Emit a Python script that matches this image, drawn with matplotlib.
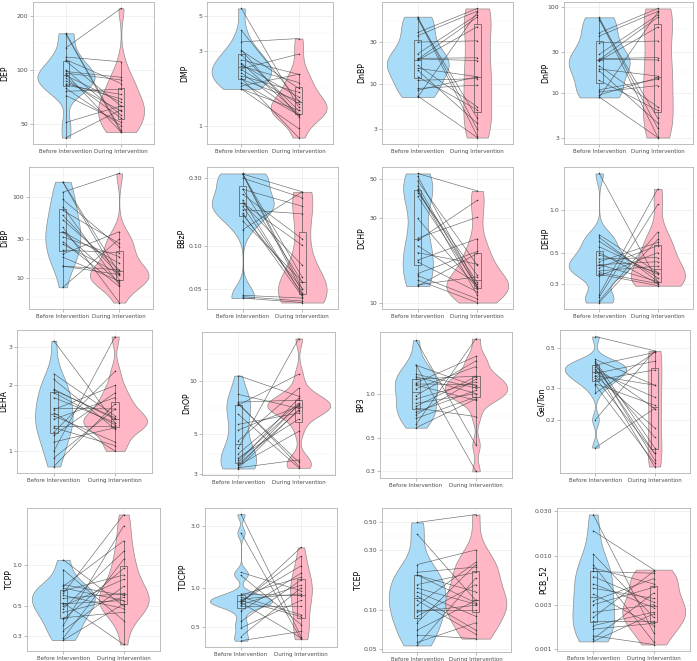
import numpy as np
import matplotlib.pyplot as plt
from matplotlib.ticker import FixedLocator, NullFormatter

plt.rcParams['font.family'] = ['DejaVu Sans']

groups = ["Before Intervention", "During Intervention"]

# paired values (same index = same participant)
dep_before = [160, 158, 133, 114, 118, 112, 100, 98, 96, 93, 90, 87, 84, 82, 79, 76, 72, 51, 42, 95]
dep_during = [46, 45, 220, 84, 111, 63, 56, 91, 88, 66, 54, 59, 69, 73, 49, 78, 51, 63, 60, 45]
dmp_before = [5.56, 4.03, 3.41, 3.03, 3.0, 2.82, 2.62, 2.50, 2.45, 2.39, 2.30, 2.27, 2.17, 2.07, 2.0, 1.97, 1.88, 1.79, 1.71, 1.71]
dmp_during = [1.31, 1.44, 3.58, 1.14, 1.73, 1.25, 2.12, 1.19, 1.52, 1.88, 2.85, 1.38, 1.17, 1.63, 0.84, 1.44, 1.17, 2.12, 0.96, 1.25]
dnbp_before = [58.7, 57, 55, 38.7, 35.5, 30, 22, 19.5, 19.2, 19.0, 18.5, 16.2, 15, 14.2, 12, 10.9, 8.8, 8.4, 7.0, 7.2]
dnbp_during = [3.0, 2.5, 4.0, 73, 68, 31, 62, 19.8, 18.4, 58, 45, 5.4, 12, 3.5, 5.0, 11.4, 9.6, 12, 66, 2.4]
dnpp_before = [75, 73, 70, 49.6, 45.5, 38, 28, 25, 24.6, 24.3, 23.5, 20.7, 19, 18.1, 14, 10.9, 10.3, 9.5, 8.9, 9.0]
dnpp_during = [3.9, 3.1, 5.1, 95, 88, 40, 80, 25.7, 24.1, 75, 58, 6.9, 15.7, 4.5, 6.3, 14.5, 12.2, 15, 86, 3.06]
dibp_before = [152, 150, 113, 92, 75, 67.6, 58.8, 52, 42, 37, 36.9, 32, 28, 26, 22, 19.7, 18, 14, 14, 7.7]
dibp_during = [11.5, 9.5, 192, 24.2, 8.3, 26.6, 11, 12.6, 5.0, 8.7, 15.2, 18.3, 7.9, 11.3, 20.5, 37, 9.2, 12.6, 11, 30]
bbzp_before = [0.323, 0.32, 0.318, 0.30, 0.25, 0.25, 0.23, 0.21, 0.20, 0.20, 0.19, 0.18, 0.17, 0.166, 0.15, 0.13, 0.045, 0.044, 0.043, 0.32]
bbzp_during = [0.05, 0.24, 0.047, 0.218, 0.056, 0.19, 0.112, 0.045, 0.101, 0.073, 0.046, 0.168, 0.044, 0.05, 0.056, 0.24, 0.043, 0.041, 0.040, 0.06]
dchp_before = [54, 52, 49, 46, 44, 43, 42, 23.2, 22.5, 21, 19.2, 17.4, 17.0, 14.6, 14.2, 13.4, 12.6, 12.4, 30, 40]
dchp_during = [43, 12.3, 16.3, 12.0, 11, 13.0, 14.3, 30.5, 38, 12.8, 16.5, 23, 11.5, 19.5, 10.5, 10.0, 14, 19, 12.1, 12.4]
dehp_before = [1.83, 0.67, 0.64, 0.60, 0.55, 0.50, 0.48, 0.45, 0.43, 0.41, 0.41, 0.39, 0.37, 0.36, 0.35, 0.34, 0.25, 0.24, 0.226, 0.22]
dehp_during = [0.31, 0.36, 0.31, 0.33, 0.35, 0.30, 0.36, 0.46, 0.59, 0.31, 0.43, 0.56, 0.40, 0.30, 0.29, 0.50, 1.42, 1.1, 0.70, 0.62]
deha_before = [3.2, 2.26, 2.13, 1.92, 1.76, 1.85, 1.57, 1.55, 1.45, 1.40, 1.28, 1.22, 1.18, 1.10, 1.0, 0.93, 0.85, 1.5, 1.3, 1.9]
deha_during = [1.35, 1.45, 1.26, 1.40, 1.35, 1.32, 1.56, 2.0, 1.10, 1.76, 1.06, 2.32, 1.85, 1.28, 3.35, 1.56, 1.65, 1.0, 1.3, 1.42]
dnop_before = [10.7, 8.4, 7.6, 7.4, 7.3, 6.5, 5.7, 5.3, 4.6, 4.2, 3.9, 3.7, 3.48, 3.4, 3.35, 3.3, 3.25, 3.22, 7.5, 3.6]
dnop_during = [8.2, 7.0, 7.8, 3.5, 10.9, 3.25, 6.6, 7.2, 9.1, 17.3, 7.5, 6.1, 8.0, 6.8, 5.2, 7.4, 3.6, 6.9, 3.33, 7.3]
bp3_before = [2.28, 1.56, 1.35, 1.25, 1.18, 1.16, 1.14, 1.08, 0.97, 0.92, 0.86, 0.80, 0.75, 0.72, 0.68, 0.62, 0.59, 1.55, 1.30, 0.82]
bp3_during = [0.45, 0.30, 1.09, 1.31, 1.78, 1.15, 0.90, 1.52, 1.66, 1.20, 1.0, 0.70, 1.05, 1.25, 0.95, 2.34, 0.92, 1.12, 1.0, 1.3]
gel_before = [0.576, 0.43, 0.42, 0.41, 0.40, 0.39, 0.38, 0.37, 0.36, 0.35, 0.34, 0.33, 0.315, 0.31, 0.28, 0.20, 0.14, 0.38, 0.35, 0.40]
gel_during = [0.48, 0.31, 0.14, 0.12, 0.47, 0.23, 0.11, 0.266, 0.42, 0.18, 0.13, 0.376, 0.24, 0.115, 0.47, 0.48, 0.23, 0.16, 0.31, 0.13]
tcpp_before = [1.10, 0.93, 0.72, 0.70, 0.68, 0.65, 0.62, 0.57, 0.53, 0.50, 0.48, 0.45, 0.41, 0.36, 0.33, 0.29, 0.28, 0.60, 0.52, 0.40]
tcpp_during = [0.50, 0.39, 0.60, 1.52, 0.55, 0.85, 2.38, 0.62, 0.26, 0.79, 1.27, 0.58, 0.45, 1.96, 0.70, 1.11, 0.52, 0.48, 0.55, 0.95]
tdcpp_before = [3.72, 2.67, 1.32, 1.25, 0.90, 0.88, 0.85, 0.79, 0.78, 0.76, 0.74, 0.72, 0.66, 0.55, 0.49, 0.42, 0.39, 0.80, 0.77, 0.82]
tdcpp_during = [0.42, 0.40, 0.95, 0.52, 0.87, 1.21, 0.62, 1.48, 1.76, 2.06, 1.05, 0.72, 1.30, 1.15, 0.80, 1.00, 0.46, 0.60, 0.41, 0.90]
tcep_before = [0.494, 0.40, 0.23, 0.20, 0.19, 0.16, 0.14, 0.12, 0.11, 0.098, 0.09, 0.08, 0.07, 0.064, 0.056, 0.053, 0.19, 0.15, 0.13, 0.10]
tcep_during = [0.57, 0.12, 0.30, 0.22, 0.115, 0.20, 0.09, 0.065, 0.24, 0.11, 0.16, 0.23, 0.12, 0.06, 0.08, 0.18, 0.14, 0.112, 0.07, 0.10]
pcb52_before = [0.0275, 0.0184, 0.0104, 0.0080, 0.0074, 0.0068, 0.0060, 0.0050, 0.0045, 0.0039, 0.0033, 0.0030, 0.0025, 0.0022, 0.0020, 0.0018, 0.00165, 0.0014, 0.0013, 0.00122]
pcb52_during = [0.0015, 0.0071, 0.0022, 0.0012, 0.0050, 0.0065, 0.0032, 0.0028, 0.0035, 0.0018, 0.0057, 0.0046, 0.0030, 0.0068, 0.0020, 0.0025, 0.0019, 0.00113, 0.0040, 0.0024]

# (name, before, during, y tick values, y tick labels, axes box l, r, top, bottom in px, ylabel x in px)
panels = [
    ("DEP", dep_before, dep_during, [50, 100, 200], ["50", "100", "200"], (33, 154, 2, 144), 6),
    ("DMP", dmp_before, dmp_during, [1, 3, 5], ["1", "3", "5"], (207, 333, 2, 144), 186),
    ("DnBP", dnbp_before, dnbp_during, [3, 10, 30], ["3", "10", "30"], (382, 513, 2, 144), 363),
    ("DnPP", dnpp_before, dnpp_during, [3, 10, 30, 100], ["3", "10", "30", "100"], (564, 693, 2, 144), 547),
    ("DiBP", dibp_before, dibp_during, [10, 30, 100], ["10", "30", "100"], (29, 153, 167, 309), 6),
    ("BBzP", bbzp_before, bbzp_during, [0.05, 0.1, 0.3], ["0.05", "0.10", "0.30"], (207, 338, 167, 309), 183),
    ("DCHP", dchp_before, dchp_during, [10, 30, 50], ["10", "30", "50"], (382, 513, 167, 309), 363),
    ("DEHP", dehp_before, dehp_during, [0.3, 0.5, 1.0], ["0.3", "0.5", "1.0"], (564, 693, 167, 309), 547),
    ("DEHA", deha_before, deha_during, [1, 2, 3], ["1", "2", "3"], (17, 152, 330, 473), 5),
    ("DnOP", dnop_before, dnop_during, [3, 5, 10], ["3", "5", "10"], (202, 335, 332, 475), 188),
    ("BP3", bp3_before, bp3_during, [0.3, 0.5, 1.0], ["0.3", "0.5", "1.0"], (380, 512, 332, 478), 362),
    ("Gel/Ton", gel_before, gel_during, [0.2, 0.3, 0.5], ["0.2", "0.3", "0.5"], (560, 690, 330, 473), 543),
    ("TCPP", tcpp_before, tcpp_during, [0.3, 0.5, 1.0], ["0.3", "0.5", "1.0"], (27, 160, 508, 651), 11),
    ("TDCPP", tdcpp_before, tdcpp_during, [0.5, 1.0, 3.0], ["0.5", "1.0", "3.0"], (205, 337, 508, 647), 185),
    ("TCEP", tcep_before, tcep_during, [0.05, 0.1, 0.3, 0.5], ["0.05", "0.10", "0.30", "0.50"], (382, 511, 508, 652), 360),
    ("PCB_52", pcb52_before, pcb52_during, [0.001, 0.003, 0.01, 0.03], ["0.001", "0.003", "0.010", "0.030"], (557, 690, 508, 651), 544),
]

fill_colors = ["#A9DCF8", "#FFB7C5"]
W, H = 697, 661


def kde_log(vals):
    # gaussian kde on log10 values, bw.nrd0 like ggplot
    lv = np.log10(np.asarray(vals, dtype=float))
    n = len(lv)
    sd = lv.std(ddof=1)
    q75, q25 = np.percentile(lv, [75, 25])
    bw = 0.9 * min(sd, (q75 - q25) / 1.34) * n ** -0.2
    grid = np.linspace(lv.min(), lv.max(), 300)
    dens = np.exp(-0.5 * ((grid[:, None] - lv[None, :]) / bw) ** 2).sum(1) / (n * bw * np.sqrt(2 * np.pi))
    return grid, dens


fig = plt.figure(figsize=(6.97, 6.61), dpi=100)

for name, before, during, ticks, labels, (l, r, t, b), lab_x in panels:
    ax = fig.add_axes([l / W, 1 - b / H, (r - l) / W, (b - t) / H])
    ax.set_yscale('log')

    # violins (area scaled within the panel)
    kdes = [kde_log(before), kde_log(during)]
    dmax = max(d.max() for _, d in kdes)
    for i, (g, d) in enumerate(kdes):
        hw = d / dmax * 0.52
        ax.fill_betweenx(10 ** g, i + 1 - hw, i + 1 + hw, facecolor=fill_colors[i],
                         edgecolor='#8C8C8C', linewidth=0.5, zorder=2)

    ax.boxplot([before, during], positions=[1, 2], widths=0.12, showfliers=False,
               showcaps=False, patch_artist=True,
               boxprops=dict(facecolor='none', edgecolor='#555555', linewidth=0.5),
               whiskerprops=dict(color='#555555', linewidth=0.5),
               medianprops=dict(color='#555555', linewidth=0.5), zorder=3)

    # paired lines
    for vb, vd in zip(before, during):
        ax.plot([1, 2], [vb, vd], color='#3A3A3A', linewidth=0.45, alpha=0.75, zorder=4)
    ax.scatter([1] * len(before), before, s=1.2, color='#333333', zorder=5, linewidths=0)
    ax.scatter([2] * len(during), during, s=1.2, color='#333333', zorder=5, linewidths=0)

    allv = np.log10(np.concatenate([before, during]))
    lo, hi = allv.min(), allv.max()
    pad = 0.05 * (hi - lo)
    ax.set_ylim(10 ** (lo - pad), 10 ** (hi + pad))
    ax.set_xlim(0.4, 2.6)

    ax.set_yticks(ticks)
    ax.set_yticklabels(labels)
    lt = np.log10(ticks)
    step = lt[1] - lt[0]
    mids = list((lt[:-1] + lt[1:]) / 2) + [lt[0] - step / 2, lt[-1] + (lt[-1] - lt[-2]) / 2]
    ax.yaxis.set_minor_locator(FixedLocator(10 ** np.array(mids)))
    ax.yaxis.set_minor_formatter(NullFormatter())
    ax.set_xticks([1, 2])
    ax.set_xticklabels(groups)

    ax.grid(True, which='major', color='#EBEBEB', linewidth=0.5, zorder=0)
    ax.grid(True, which='minor', axis='y', color='#F4F4F4', linewidth=0.35, zorder=0)
    ax.set_axisbelow(True)
    ax.tick_params(axis='both', which='major', length=2, width=0.4, color='#888888',
                   labelsize=4.4, labelcolor='#4D4D4D', pad=1.5)
    ax.tick_params(axis='x', labelsize=4.0)
    ax.tick_params(which='minor', length=0)
    for s in ax.spines.values():
        s.set_color('#B3B3B3')
        s.set_linewidth(0.6)
    ax.set_ylabel(name, fontsize=5.6)
    ax.yaxis.set_label_coords((lab_x + 3 - l) / (r - l), 0.5)

fig.savefig("out.png", dpi=100)
